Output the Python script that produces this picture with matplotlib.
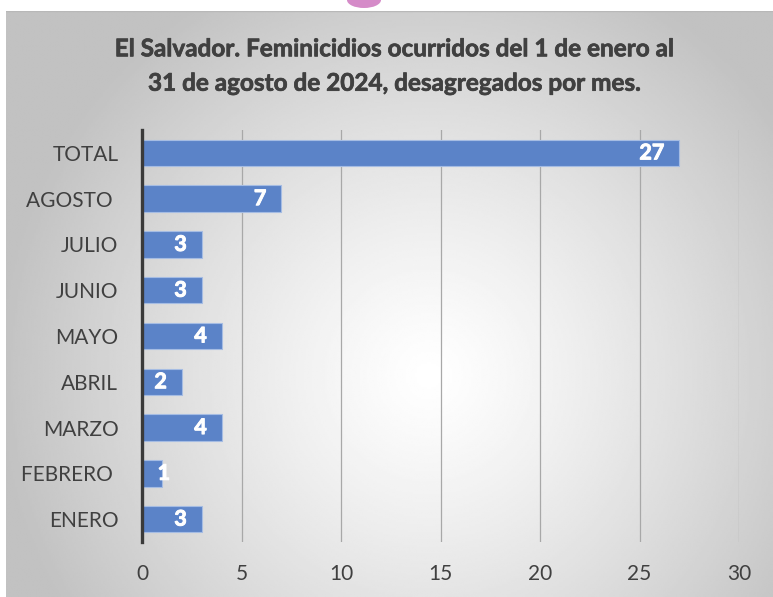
import numpy as np
import matplotlib
matplotlib.use("Agg")
import matplotlib.pyplot as plt
import matplotlib.patheffects as pe
from matplotlib.patches import Ellipse

categories = ["TOTAL", "AGOSTO ", "JULIO", "JUNIO", "MAYO", "ABRIL", "MARZO", "FEBRERO ", "ENERO"]
values = [27, 7, 3, 3, 4, 2, 4, 1, 3]
xticks = [0, 5, 10, 15, 20, 25, 30]
title = "El Salvador. Feminicidios ocurridos del 1 de enero al\n31 de agosto de 2024, desagregados por mes."

W, H = 773, 597
fig = plt.figure(figsize=(W / 100, H / 100), dpi=100)
fig.patch.set_facecolor("white")

# background panel with radial gradient
bx0, by1 = 6, 11
bg = fig.add_axes([bx0 / W, 0, (W - bx0) / W, (H - by1) / H])
ny, nx = 300, 400
yy, xx = np.mgrid[0:ny, 0:nx]
cx, cy = 0.55 * nx, 0.62 * ny
r = np.sqrt(((xx - cx) / (0.62 * nx)) ** 2 + ((yy - cy) / (0.62 * nx)) ** 2)
val = np.clip(1.0 - 0.27 * r ** 1.2, 0.76, 1.0)
bg.imshow(val, cmap="gray", vmin=0, vmax=1, aspect="auto", extent=[0, 1, 0, 1], origin="upper", interpolation="bilinear")
bg.set_axis_off()
bg.add_line(plt.Line2D([0, 1], [1, 1], color="#b8b8b8", lw=1.0, transform=bg.transAxes))

# pink decoration at top
fig.patches.append(Ellipse((364 / W, 1.0), 34 / W, 16 / H, transform=fig.transFigure,
                           facecolor="#d58bc8", edgecolor="none", zorder=5))

ax = fig.add_axes([142 / W, (H - 542) / H, (739 - 142) / W, (542 - 130) / H])
ax.patch.set_alpha(0)
y = np.arange(len(categories))
ax.barh(y, values, height=0.58, color="#5b83c8", edgecolor="#a5bce3", linewidth=0.8, zorder=3)
ax.set_ylim(len(categories) - 0.5, -0.5)
ax.set_xlim(0, 30)
ax.set_xticks(xticks)
ax.set_yticks(y)
ax.set_yticklabels(categories)
ax.xaxis.grid(True, color="#a8a8a8", linewidth=0.9, zorder=0)
ax.set_axisbelow(True)
for s in ["top", "right", "bottom"]:
    ax.spines[s].set_visible(False)
ax.spines["left"].set_color("#3a3a3a")
ax.spines["left"].set_linewidth(2.4)
ax.spines["left"].set_zorder(4)
ax.tick_params(axis="both", length=0, labelcolor="#404040", labelsize=15, labelfontfamily="Lato")
ax.tick_params(axis="y", pad=17)
ax.tick_params(axis="x", pad=16)

lbl_fx = [pe.withStroke(linewidth=0.7, foreground="white")]
for yi, v in zip(y, values):
    if v < 1.5:
        ax.text(v + 0.1, yi, str(v), ha="center", va="center", color="white", fontweight="bold",
                fontsize=15.5, family="Lato", zorder=5, path_effects=lbl_fx)
    else:
        ax.text(v - 0.75, yi, str(v), ha="right", va="center", color="white", fontweight="bold",
                fontsize=15.5, family="Lato", zorder=5, path_effects=lbl_fx)

fig.text(394 / W, 1 - 66 / H, title, ha="center", va="center", fontsize=17.5, fontweight="bold",
         family="Lato", color="#404040", linespacing=1.6,
         path_effects=[pe.withStroke(linewidth=0.5, foreground="#404040")])

fig.savefig("out.png", dpi=100)
